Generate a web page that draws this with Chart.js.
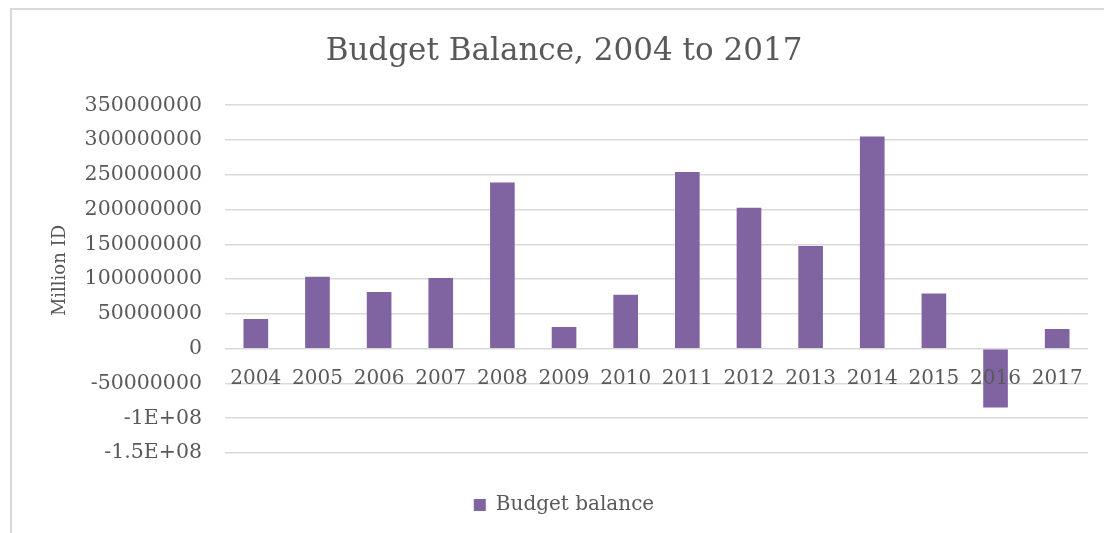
<!DOCTYPE html>
<html>
<head>
<meta charset="utf-8">
<title>Budget Balance, 2004 to 2017</title>
<script src="https://cdn.jsdelivr.net/npm/chart.js"></script>
<style>
  html, body { margin: 0; padding: 0; background: #fff; overflow: hidden; }
  #frame { position: absolute; left: 10px; top: 8px; width: 1200px; height: 600px;
           border-left: 2px solid #d9d9d9; border-top: 2px solid #d9d9d9; }
  #wrap { position: absolute; left: 0; top: 0; }
</style>
</head>
<body>
<div id="frame"></div>
<div id="wrap"><canvas id="myChart" width="1130" height="560"></canvas></div>
<script>
// values
const years = ['2004', '2005', '2006', '2007', '2008', '2009', '2010',
               '2011', '2012', '2013', '2014', '2015', '2016', '2017'];
const budgetBalance = [42800000, 103400000, 81300000, 101500000, 239000000, 31300000, 77400000,
                       253800000, 202500000, 147700000, 304900000, 79300000, -84500000, 28400000];
const yTickValues = [-150000000, -100000000, -50000000, 0, 50000000, 100000000,
                     150000000, 200000000, 250000000, 300000000, 350000000];
const yTickLabels = ['-1.5E+08', '-1E+08', '-50000000', '0', '50000000', '100000000',
                     '150000000', '200000000', '250000000', '300000000', '350000000'];

const grey = '#595959';
const serif = 'DejaVu Serif';

var myChart = new Chart('myChart', {
    type: 'bar',
    data: {
        labels: years,
        datasets: [{
            label: 'Budget balance',
            data: budgetBalance,
            backgroundColor: '#8064a2',
            borderWidth: 0,
            barPercentage: 0.4,
            categoryPercentage: 1
        }]
    },
    options: {
        responsive: false,
        animation: false,
        layout: { padding: { left: 40, right: 42, top: 0, bottom: 35 } },
        plugins: {
            title: {
                display: true,
                text: 'Budget Balance, 2004 to 2017',
                color: grey,
                font: { family: serif, size: 31, weight: 'normal' },
                padding: { top: 33, bottom: 35 }
            },
            legend: {
                position: 'bottom',
                labels: {
                    color: grey,
                    font: { family: serif, size: 20 },
                    boxWidth: 12,
                    boxHeight: 12,
                    padding: 42
                }
            },
            tooltip: { enabled: false }
        },
        scales: {
            x: {
                position: { y: 0 },
                grid: { display: false, drawTicks: false },
                border: { display: false },
                ticks: {
                    z: 1,
                    color: grey,
                    font: { family: serif, size: 20 },
                    padding: 18,
                    maxRotation: 0,
                    autoSkip: false
                }
            },
            y: {
                min: -150000000,
                max: 350000000,
                afterFit: function(scale) { scale.width = 185; },
                grid: { color: '#d9d9d9', lineWidth: 1.5, drawTicks: false },
                border: { display: false },
                ticks: {
                    stepSize: 50000000,
                    color: grey,
                    font: { family: serif, size: 20.5 },
                    padding: 23,
                    callback: function(v) { return yTickLabels[yTickValues.indexOf(v)]; }
                },
                title: {
                    display: true,
                    // leading spaces nudge the rotated title up a little, like the original
                    text: '\u00a0\u00a0\u00a0Million ID',
                    color: grey,
                    font: { family: serif, size: 18 },
                    padding: { top: 10 }
                }
            }
        }
    }
});
</script>
</body>
</html>
